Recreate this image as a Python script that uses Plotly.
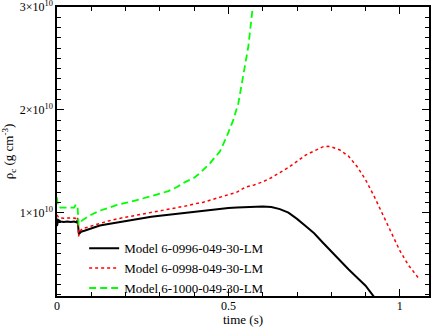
import plotly.graph_objects as go

# time (s) and central density (units of 1e10 g cm^-3)
t_0996 = [0.000, 0.003, 0.010, 0.020, 0.030, 0.040, 0.050, 0.058, 0.060, 0.062, 0.064, 0.066,
          0.070, 0.080, 0.100, 0.125, 0.150, 0.175, 0.200, 0.225, 0.250, 0.275, 0.300, 0.325,
          0.350, 0.375, 0.400, 0.425, 0.450, 0.475, 0.500, 0.525, 0.550, 0.575, 0.600, 0.625,
          0.650, 0.675, 0.690, 0.700, 0.725, 0.750, 0.775, 0.800, 0.825, 0.850, 0.875, 0.900,
          0.925]
rho_0996 = [0.87, 0.93, 0.915, 0.91, 0.915, 0.91, 0.915, 0.905, 0.93, 0.86, 0.79, 0.80,
            0.815, 0.825, 0.85, 0.875, 0.89, 0.905, 0.92, 0.935, 0.95, 0.96, 0.97, 0.98,
            0.99, 1.0, 1.01, 1.02, 1.03, 1.035, 1.045, 1.05, 1.055, 1.06, 1.06, 1.055,
            1.035, 1.0, 0.965, 0.94, 0.87, 0.80, 0.71, 0.62, 0.53, 0.45, 0.37, 0.29,
            0.18]

t_0998 = [0.000, 0.005, 0.020, 0.040, 0.055, 0.060, 0.063, 0.066, 0.075, 0.100, 0.125, 0.150,
          0.175, 0.200, 0.225, 0.250, 0.275, 0.300, 0.325, 0.350, 0.375, 0.400, 0.425, 0.450,
          0.475, 0.500, 0.525, 0.550, 0.575, 0.600, 0.625, 0.650, 0.675, 0.700, 0.725, 0.750,
          0.775, 0.790, 0.800, 0.825, 0.850, 0.875, 0.900, 0.925, 0.950, 0.975, 1.000, 1.025,
          1.053]
rho_0998 = [0.98, 0.95, 0.945, 0.95, 0.945, 0.96, 0.77, 0.82, 0.845, 0.87, 0.90, 0.92,
            0.94, 0.955, 0.97, 0.99, 1.0, 1.015, 1.03, 1.05, 1.065, 1.085, 1.10, 1.125,
            1.15, 1.175, 1.20, 1.25, 1.27, 1.30, 1.34, 1.39, 1.44, 1.50, 1.56, 1.60,
            1.64, 1.645, 1.64, 1.61, 1.55, 1.45, 1.32, 1.16, 0.98, 0.80, 0.63, 0.49,
            0.37]

t_1000 = [0.000, 0.003, 0.010, 0.030, 0.050, 0.055, 0.060, 0.063, 0.066, 0.075, 0.100, 0.125,
          0.150, 0.175, 0.200, 0.225, 0.250, 0.275, 0.300, 0.325, 0.350, 0.375, 0.400, 0.417,
          0.446, 0.475, 0.495, 0.514, 0.529, 0.543, 0.558, 0.570, 0.574]
rho_1000 = [1.15, 1.06, 1.05, 1.05, 1.05, 1.08, 1.06, 0.88, 0.90, 0.93, 0.98, 1.02,
            1.05, 1.075, 1.095, 1.115, 1.135, 1.16, 1.185, 1.21, 1.25, 1.30, 1.34, 1.385,
            1.48, 1.595, 1.74, 1.90, 2.065, 2.32, 2.615, 2.97, 3.05]

names = ["Model 6-0996-049-30-LM", "Model 6-0998-049-30-LM", "Model 6-1000-049-30-LM"]

y_tickvals = [1, 2, 3]
y_ticktext = ["1×10<sup>10</sup>", "2×10<sup>10</sup>", "3×10<sup>10</sup>"]

FONT = "Liberation Serif, Times New Roman, serif"

fig = go.Figure()
fig.add_trace(go.Scatter(x=t_0996, y=rho_0996, mode="lines", name=names[0],
                         line=dict(color="black", width=2)))
fig.add_trace(go.Scatter(x=t_0998, y=rho_0998, mode="lines", name=names[1],
                         line=dict(color="#ff0000", width=1.5, dash="dot")))
fig.add_trace(go.Scatter(x=t_1000, y=rho_1000, mode="lines", name=names[2],
                         line=dict(color="#00ff00", width=1.8, dash="7px,4px")))

fig.update_layout(
    width=436, height=327,
    margin=dict(l=57, r=7, t=7, b=31),
    paper_bgcolor="white", plot_bgcolor="white",
    font=dict(family=FONT, size=12, color="black"),
    showlegend=True,
    legend=dict(x=0.073, y=-0.025, xanchor="left", yanchor="bottom",
                bgcolor="rgba(0,0,0,0)", font=dict(family=FONT, size=13),
                tracegroupgap=0),
)
fig.update_xaxes(
    range=[0, 1.085], showgrid=False, zeroline=False, automargin=False,
    showline=True, linecolor="black", linewidth=1.5, mirror="ticks",
    ticks="inside", ticklen=7, tickwidth=1, tickcolor="black",
    tick0=0, dtick=0.5, ticklabeloverflow="allow", ticklabelstandoff=-2,
    minor=dict(ticks="inside", ticklen=4, tickcolor="black", tick0=0, dtick=0.1, showgrid=False),
    title=dict(text="time (s)", font=dict(family=FONT, size=13), standoff=0),
    tickfont=dict(family=FONT, size=12),
)
fig.update_yaxes(
    range=[0.19, 3.0], showgrid=False, zeroline=False, automargin=False,
    showline=True, linecolor="black", linewidth=1.5, mirror="ticks",
    ticks="inside", ticklen=7, tickwidth=1, tickcolor="black",
    tickmode="array", tickvals=y_tickvals, ticktext=y_ticktext, ticklabeloverflow="allow",
    minor=dict(ticks="inside", ticklen=4, tickcolor="black", tickmode="linear",
               tick0=0, dtick=0.1, showgrid=False),
    title=dict(text="ρ<sub>c</sub> (g cm<sup>-3</sup>)", font=dict(family=FONT, size=13), standoff=6),
    tickfont=dict(family=FONT, size=12),
)

fig.write_html("out.html", config={"displayModeBar": False},
               post_script="document.body.style.margin='0px';")
